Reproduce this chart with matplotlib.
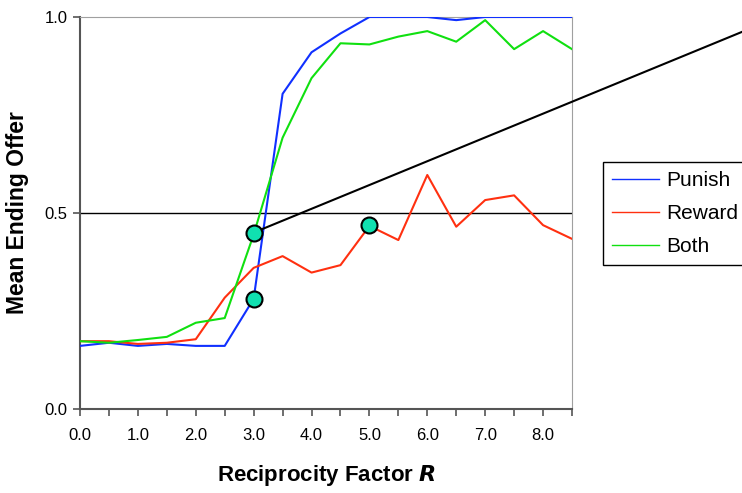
import matplotlib.pyplot as plt

plt.rcParams['font.family'] = ['Liberation Sans', 'DejaVu Sans']

r = [0.0, 0.5, 1.0, 1.5, 2.0, 2.5, 3.0, 3.5, 4.0, 4.5, 5.0, 5.5, 6.0, 6.5, 7.0, 7.5, 8.0, 8.5]
punish = [0.161, 0.169, 0.161, 0.166, 0.161, 0.161, 0.281, 0.804, 0.910, 0.958, 1.0, 1.0, 1.0, 0.992, 1.0, 1.0, 1.0, 1.0]
reward = [0.173, 0.173, 0.166, 0.169, 0.178, 0.284, 0.360, 0.390, 0.348, 0.367, 0.467, 0.431, 0.597, 0.465, 0.533, 0.545, 0.469, 0.434]
both = [0.173, 0.169, 0.176, 0.184, 0.220, 0.232, 0.445, 0.692, 0.844, 0.933, 0.930, 0.950, 0.964, 0.937, 0.992, 0.918, 0.964, 0.918]

# marked points and the sloped reference line
dots_x = [3.0, 3.0, 5.0]
dots_y = [0.45, 0.281, 0.469]
ref_x = [3.0, 11.7]
ref_y = [0.45, 0.978]

fig = plt.figure(figsize=(7.42, 4.93), dpi=100)
ax = fig.add_axes([80/742, 84/493, 492/742, 392/493])

ax.axhline(0.5, color='black', lw=1, zorder=1)
ax.plot(r, punish, color='#1030ff', lw=1.5, label='Punish', zorder=3)
ax.plot(r, reward, color='#ff3010', lw=1.5, label='Reward', zorder=3)
ax.plot(r, both, color='#10e010', lw=1.5, label='Both', zorder=3)
ax.plot(ref_x, ref_y, color='black', lw=1.5, clip_on=False, zorder=4)
ax.plot(dots_x, dots_y, 'o', ms=11.5, mfc='#10e0b0', mec='black', mew=1.5,
        linestyle='none', zorder=5)

ax.set_xlim(0, 8.5)
ax.set_ylim(0, 1)
ax.set_xticks([i * 0.5 for i in range(18)])
ax.set_xticklabels([f'{i * 0.5:.1f}' if i % 2 == 0 else '' for i in range(18)])
ax.set_yticks([0, 0.5, 1.0])
ax.set_yticklabels(['0.0', '0.5', '1.0'])
ax.tick_params(direction='out', length=5, labelsize=12, color='#555555', width=1.2)
ax.tick_params(axis='x', pad=9)
ax.tick_params(axis='y', pad=4)

for side in ['top', 'right']:
    ax.spines[side].set_color('#a0a0a0')
for side in ['left', 'bottom']:
    ax.spines[side].set_color('#555555')
    ax.spines[side].set_linewidth(1.5)

ax.set_ylabel('Mean Ending Offer', fontsize=16.5, fontweight='bold', labelpad=11)
ax.set_xlabel('Reciprocity Factor $\\boldsymbol{R}$', fontsize=16, fontweight='bold', labelpad=14)

leg = ax.legend(loc='upper left', bbox_to_anchor=(603/742, 1 - 162/493), bbox_transform=fig.transFigure,
                fancybox=False, edgecolor='black', fontsize=15, handlelength=2.25,
                borderpad=0.45, labelspacing=0.66, handletextpad=0.35, borderaxespad=0,
                framealpha=1)
leg.get_frame().set_linewidth(1)
for line in leg.get_lines():
    line.set_linewidth(1)

fig.savefig('out.png', dpi=100)
